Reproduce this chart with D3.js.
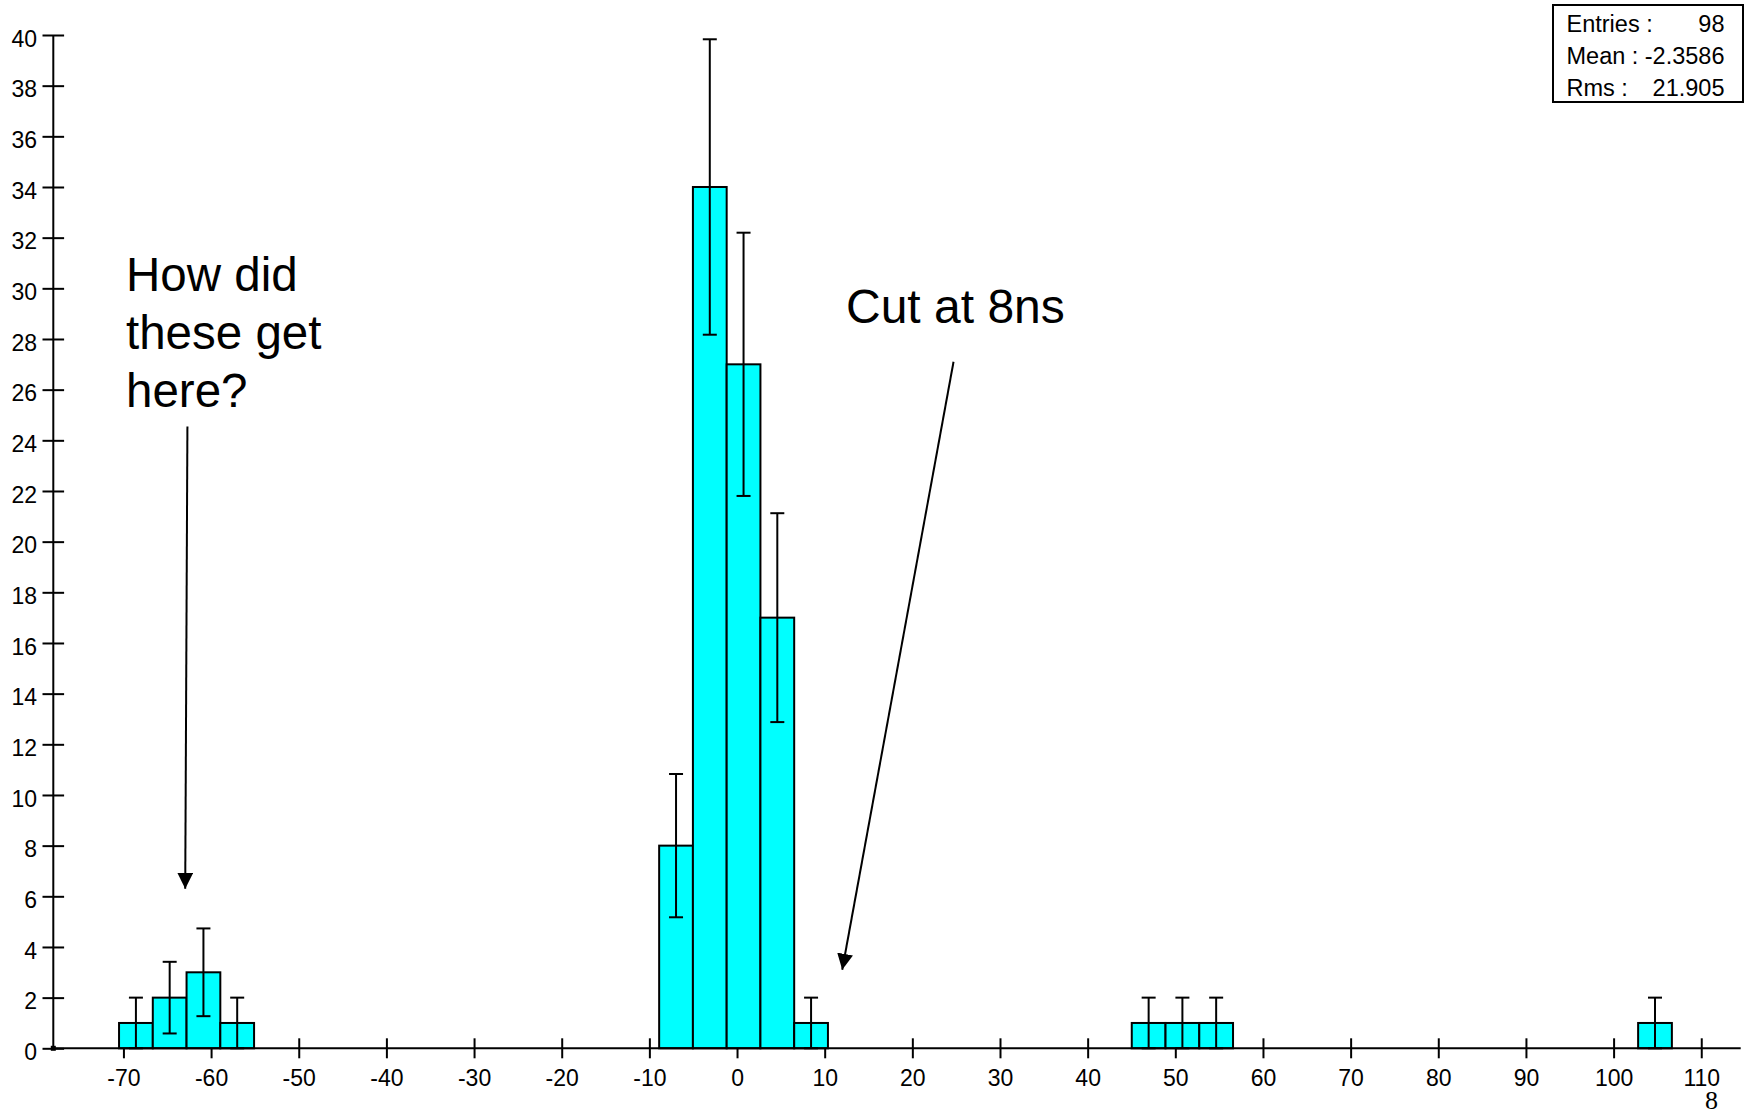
<!DOCTYPE html>
<html>
<head>
<meta charset="utf-8">
<script src="https://cdn.jsdelivr.net/npm/d3@7"></script>
<style>
  html, body { margin: 0; padding: 0; background: #fff; }
  svg { display: block; }
  text { font-family: "Liberation Sans", Arial, sans-serif; fill: #000; }
</style>
</head>
<body>
<svg id="chart" width="1747" height="1111"></svg>
<script>
// ---- data ----
const binLow   = [-70.5, -66.649, -62.798, -58.947, -8.883, -5.032, -1.181, 2.670, 6.521, 45.032, 48.883, 52.734, 102.798];
const binHigh  = [-66.649, -62.798, -58.947, -55.096, -5.032, -1.181, 2.670, 6.521, 10.372, 48.883, 52.734, 56.585, 106.649];
const counts   = [1, 2, 3, 1, 8, 34, 27, 17, 1, 1, 1, 1, 1];
const errors   = [1, 1.414, 1.732, 1, 2.828, 5.831, 5.196, 4.123, 1, 1, 1, 1, 1];
const xTicks   = [-70, -60, -50, -40, -30, -20, -10, 0, 10, 20, 30, 40, 50, 60, 70, 80, 90, 100, 110];
const yTicks   = [0, 2, 4, 6, 8, 10, 12, 14, 16, 18, 20, 22, 24, 26, 28, 30, 32, 34, 36, 38, 40];
const statLabels = ["Entries :", "Mean :", "Rms :"];
const statValues = ["98", "-2.3586", "21.905"];
const note1Lines = ["How did", "these get", "here?"];
const note2Text  = "Cut at 8ns";
const note1Arrow = { x1: -62.7, y1: 24.55, x2: -62.95, y2: 6.3 };
const note2Arrow = { x1: 24.7, y1: 27.1, x2: 12.0, y2: 3.1 };

// ---- scales ----
const x = d3.scaleLinear().domain([-78, 114.5]).range([53.3, 1740.7]);
const y = d3.scaleLinear().domain([0, 40]).range([1048.3, 35]);

const svg = d3.select("#chart");

// arrow marker
svg.append("defs").append("marker")
  .attr("id", "ah").attr("viewBox", "0 0 10 10")
  .attr("refX", 10).attr("refY", 5)
  .attr("markerWidth", 16).attr("markerHeight", 16)
  .attr("markerUnits", "userSpaceOnUse")
  .attr("orient", "auto")
  .append("path").attr("d", "M0,0 L10,5 L0,10 Z").attr("fill", "#000");

// ---- x axis ticks (drawn under bars) ----
const xAxis = d3.axisBottom(x).tickValues(xTicks).tickSize(20).tickSizeOuter(0).tickFormat(d3.format("d"));
const gx = svg.append("g").attr("transform", `translate(0,${y(0) - 10})`).call(xAxis);
gx.select(".domain").remove();
gx.selectAll(".tick line").attr("stroke", "#000").attr("stroke-width", 2);
gx.selectAll(".tick text")
  .attr("y", 47.7).attr("dy", 0)
  .style("font-size", "23px")
  .style("font-family", '"Liberation Sans", Arial, sans-serif')
  .attr("fill", "#222")
  .text(d => d < 0 ? "-" + Math.abs(d) : String(d));

// ---- bars ----
const idx = d3.range(counts.length);
svg.append("g").selectAll("rect").data(idx).join("rect")
  .attr("x", i => x(binLow[i]))
  .attr("width", i => x(binHigh[i]) - x(binLow[i]))
  .attr("y", i => y(counts[i]))
  .attr("height", i => y(0) - y(counts[i]))
  .attr("fill", "#00ffff")
  .attr("stroke", "#000")
  .attr("stroke-width", 2);

// ---- error bars ----
const ge = svg.append("g").attr("stroke", "#000").attr("stroke-width", 2);
idx.forEach(i => {
  const cx = x((binLow[i] + binHigh[i]) / 2);
  const top = y(counts[i] + errors[i]);
  const bot = y(Math.max(0, counts[i] - errors[i]));
  ge.append("line").attr("x1", cx).attr("x2", cx).attr("y1", top).attr("y2", bot);
  ge.append("line").attr("x1", cx - 7).attr("x2", cx + 7).attr("y1", top).attr("y2", top);
  ge.append("line").attr("x1", cx - 7).attr("x2", cx + 7).attr("y1", bot).attr("y2", bot);
});

// ---- x axis line ----
svg.append("line")
  .attr("x1", x.range()[0]).attr("x2", x.range()[1])
  .attr("y1", y(0)).attr("y2", y(0))
  .attr("stroke", "#000").attr("stroke-width", 2);

// ---- y axis ----
const yAxis = d3.axisLeft(y).tickValues(yTicks).tickSize(21.6).tickSizeOuter(0).tickPadding(5.5);
const gy = svg.append("g").attr("transform", `translate(${x.range()[0] + 10.8},0)`).call(yAxis);
gy.select(".domain").remove();
gy.selectAll(".tick line").attr("stroke", "#000").attr("stroke-width", 2);
gy.selectAll(".tick text")
  .attr("dy", "0.48em")
  .style("font-size", "23px")
  .style("font-family", '"Liberation Sans", Arial, sans-serif')
  .attr("fill", "#222");
svg.append("line")
  .attr("x1", x.range()[0]).attr("x2", x.range()[0])
  .attr("y1", y(40)).attr("y2", y(0))
  .attr("stroke", "#000").attr("stroke-width", 2);
svg.append("rect")
  .attr("x", x.range()[0] - 2.5).attr("y", y(0) - 2.5)
  .attr("width", 5).attr("height", 5).attr("fill", "#000");

// ---- stats box ----
const gs = svg.append("g");
gs.append("rect").attr("x", 1553).attr("y", 5).attr("width", 190).attr("height", 97)
  .attr("fill", "#fff").attr("stroke", "#000").attr("stroke-width", 2);
statLabels.forEach((t, i) => {
  gs.append("text").attr("x", 1566.5).attr("y", 32 + i * 32)
    .style("font-size", "23.5px").attr("fill", "#222").text(t);
  gs.append("text").attr("x", 1724.5).attr("y", 32 + i * 32)
    .attr("text-anchor", "end")
    .style("font-size", "23.5px").attr("fill", "#222").text(statValues[i]);
});

// ---- annotations ----
note1Lines.forEach((t, i) => {
  svg.append("text").attr("x", 126).attr("y", 291 + i * 58)
    .style("font-size", "47.5px").text(t);
});
svg.append("text").attr("x", 846).attr("y", 323)
  .style("font-size", "48px").text(note2Text);

[note1Arrow, note2Arrow].forEach(a => {
  svg.append("line")
    .attr("x1", x(a.x1)).attr("y1", y(a.y1))
    .attr("x2", x(a.x2)).attr("y2", y(a.y2))
    .attr("stroke", "#000").attr("stroke-width", 2)
    .attr("marker-end", "url(#ah)");
});

// ---- page number ----
svg.append("text").attr("x", 1705).attr("y", 1109)
  .style("font-family", '"Liberation Serif", "Times New Roman", serif')
  .style("font-size", "26px").text("8");
</script>
</body>
</html>
